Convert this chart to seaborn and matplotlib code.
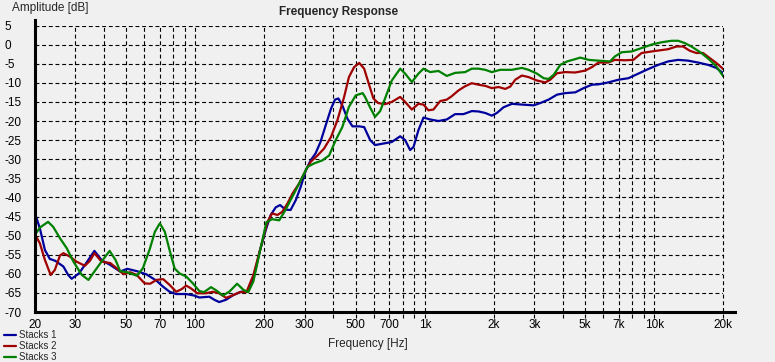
import numpy as np
import pandas as pd
import matplotlib
matplotlib.use("Agg")
import matplotlib.pyplot as plt
import seaborn as sns

# values
freq_1 = [20, 21.0, 22.1, 23.2, 24.5, 26.6, 27.9, 28.9, 31.1, 33.6, 36.3, 39.0, 42.6, 47.0, 50.5, 55.5, 61.0,
          63.3, 67.7, 72.4, 77.2, 82.5, 91.2, 99, 104, 115, 121, 127, 136, 146, 158, 170, 179,
          191, 203, 213, 224, 234, 247, 260, 274, 288, 303, 318, 334, 351, 370, 390, 406, 420, 437, 460, 484, 518, 544,
          578, 607, 660, 718, 781, 821, 863, 893, 938, 987, 1055, 1147, 1247, 1356, 1474, 1603,
          1714, 1834, 1960, 2061, 2205, 2398, 2649, 2981, 3187, 3464, 3769, 4096, 4526, 4921, 5349,
          5715, 6307, 6977, 7714, 8523, 9418, 10409, 11501, 12713, 14049, 15527, 17157, 18643, 20000]
amp_1 = [-44.2, -48.1, -53.8, -56.1, -56.6, -58.1, -60.3, -61.3, -59.9, -57.0, -54.0, -56.4, -57.7, -59.4, -58.7, -59.3, -60.1,
         -60.7, -61.8, -63.4, -64.7, -65.3, -65.3, -65.7, -66.2, -66.0, -66.8, -67.4, -66.8, -65.6, -64.7, -64.5, -61.2,
         -54.0, -48.4, -44.6, -42.6, -42.0, -43.2, -43.3, -40.7, -37.2, -32.9, -30.3, -28.5, -25.5, -21.1, -16.8, -14.4, -14.1, -15.9, -19.4, -21.4, -21.4, -21.6,
         -25.0, -26.3, -25.9, -25.5, -24.0, -25.0, -27.6, -26.8, -22.4, -19.1, -19.6, -20.0, -19.6, -18.2, -18.2, -17.4,
         -17.5, -17.9, -18.6, -17.9, -16.4, -15.5, -15.7, -15.9, -15.3, -14.4, -13.1, -12.7, -12.5, -11.4, -10.5,
         -10.4, -9.9, -9.2, -8.8, -7.6, -6.4, -5.3, -4.4, -4.0, -4.2, -4.7, -5.3, -6.1, -7.5]

freq_2 = [20, 21.0, 22.1, 23.4, 24.4, 25.7, 26.6, 28.4, 30.3, 33.0, 34.7, 36.3, 39.0, 42.6, 45.5, 48.6, 52.0, 55.5, 60.1,
          63.5, 67.7, 72.4, 77.2, 82.5, 87.2, 91.2, 95.6, 102, 111, 119, 127, 136, 146, 156, 167, 179,
          192, 206, 216, 228, 239, 252, 265, 283, 303, 318, 341, 364, 390, 416, 445, 467, 492, 518, 544,
          567, 597, 626, 671, 718, 781, 821, 878, 938, 987, 1037, 1091, 1166, 1247, 1311, 1402, 1499, 1603,
          1714, 1834, 1960, 2098, 2241, 2357, 2478, 2649, 2832, 3082, 3348, 3519, 3769, 4096, 4526, 5006, 5349,
          5715, 6307, 6739, 7456, 8106, 8809, 9737, 10583, 11501, 12498, 13360, 14277, 15262, 16313, 17436, 18643, 20000]
amp_2 = [-49.7, -52.0, -56.4, -60.3, -59.0, -55.2, -54.6, -55.5, -56.8, -57.9, -56.6, -54.6, -56.8, -57.2, -58.6, -60.1, -59.6, -60.3, -62.5,
         -62.6, -61.6, -61.4, -62.9, -64.7, -64.0, -63.1, -63.8, -65.1, -65.1, -64.7, -65.1, -66.3, -65.6, -64.8, -64.8, -60.3,
         -53.5, -46.4, -44.2, -44.6, -43.8, -41.6, -39.0, -36.4, -32.9, -30.7, -29.0, -27.2, -24.2, -19.8, -13.7, -8.5, -5.9, -4.8, -6.3,
         -9.8, -14.1, -15.3, -15.6, -15.0, -13.7, -15.0, -17.0, -15.5, -15.7, -17.2, -17.0, -14.8, -14.4, -13.5, -12.0, -10.9, -10.1,
         -10.5, -10.8, -11.4, -11.1, -11.6, -11.0, -9.2, -8.1, -8.5, -9.4, -9.9, -9.2, -7.5, -7.2, -7.3, -6.8, -5.9,
         -4.7, -4.7, -4.0, -4.1, -4.0, -2.2, -1.8, -1.5, -1.2, -0.5, -0.5, -1.6, -2.2, -2.2, -3.5, -4.8, -6.4]

freq_3 = [20, 21.0, 22.8, 24.0, 25.7, 27.5, 29.4, 32.0, 34.2, 36.3, 39.0, 42.3, 44.9, 47.0, 50.5, 55.5, 59.0,
          63.3, 66.6, 70, 73.6, 77.2, 81.2, 85.3, 91.2, 97.5, 104, 109, 117, 123, 132, 141, 152, 162, 170, 179, 191,
          204, 216, 232, 247, 260, 274, 293, 308, 329, 358, 383, 409, 437, 467, 500, 536,
          549, 578, 607, 639, 671, 718, 781, 821, 878, 938, 987, 1055, 1147, 1247, 1356, 1499, 1603,
          1714, 1834, 1960, 2131, 2398, 2649, 2832, 3082, 3296, 3464, 3646, 3896, 4174, 4526, 4758, 5181,
          5715, 6414, 6739, 7213, 7971, 8809, 9737, 10758, 11890, 12713, 13590, 14524, 16050, 17436, 18643, 20000]
amp_3 = [-49.8, -47.9, -46.4, -47.7, -50.7, -53.3, -56.8, -60.3, -61.6, -59.4, -56.8, -54.0, -56.4, -59.3, -59.6, -60.5, -58.6,
         -53.5, -49.0, -46.8, -49.0, -53.8, -58.6, -59.9, -60.7, -62.5, -64.5, -64.8, -63.5, -64.3, -65.7, -64.6, -62.6, -64.2, -64.8, -62.0, -54.2,
         -46.5, -45.7, -46.0, -43.3, -40.7, -38.1, -34.6, -32.0, -31.1, -30.3, -29.0, -25.0, -21.6, -16.3, -13.3, -12.7,
         -13.7, -16.5, -18.9, -17.4, -14.1, -9.4, -6.3, -7.6, -9.8, -7.6, -6.3, -7.2, -6.9, -8.2, -7.4, -7.2, -6.3,
         -6.3, -6.6, -7.2, -6.6, -6.6, -6.1, -6.6, -7.6, -8.8, -9.0, -7.9, -5.3, -4.4, -3.8, -3.4, -4.0,
         -4.2, -4.4, -3.1, -2.0, -1.8, -0.9, 0.0, 0.6, 1.0, 1.0, 0.4, -0.5, -2.2, -4.0, -5.7, -8.3]

series_names = ["Stacks 1", "Stacks 2", "Stacks 3"]
series_colors = ["#00009C", "#A00000", "#008000"]

x_major = [20, 30, 50, 70, 100, 200, 300, 500, 700, 1000, 2000, 3000, 5000, 7000, 10000, 20000]
x_major_labels = ["20", "30", "50", "70", "100", "200", "300", "500", "700", "1k", "2k", "3k", "5k", "7k", "10k", "20k"]
x_minor = [40, 60, 80, 90, 400, 600, 800, 900, 4000, 6000, 8000, 9000]
y_ticks = list(range(5, -75, -5))

df = pd.concat([
    pd.DataFrame({"Frequency": f, "Amplitude": a, "Series": n})
    for f, a, n in zip([freq_1, freq_2, freq_3], [amp_1, amp_2, amp_3], series_names)
])

sns.set_style("white")
plt.rcParams["font.family"] = ["Liberation Sans", "DejaVu Sans"]
bg = "#F0F0F0"

fig = plt.figure(figsize=(7.75, 3.62), dpi=100, facecolor=bg)
ax = fig.add_axes([35 / 775, 1 - 312 / 362, (723.3 - 35) / 775, (312 - 25.5) / 362])
ax.set_facecolor(bg)

sns.lineplot(data=df, x="Frequency", y="Amplitude", hue="Series", palette=series_colors,
             estimator=None, sort=False, linewidth=1.6, ax=ax, legend=True)

ax.set_xscale("log")
ax.set_xlim(20, 20000)
ax.set_ylim(-70, 5)
ax.set_xticks(x_major)
ax.set_xticklabels(x_major_labels)
ax.set_xticks(x_minor, minor=True)
ax.set_xticklabels([], minor=True)
ax.set_yticks(y_ticks)
ax.set_yticklabels([str(v) for v in y_ticks])

# dashed grid, vertical lines poke a little below the x axis
dash = (0, (3.5, 2.5))
ax.grid(False)
for v in y_ticks[:-1]:
    ax.axhline(v, color="black", lw=0.8, ls=dash, zorder=1)
ax.vlines(x_major[1:] + x_minor, -0.022, 1, transform=ax.get_xaxis_transform(),
          colors="black", lw=0.8, linestyles=dash, clip_on=False, zorder=1)

ax.tick_params(axis="both", which="both", length=0, labelsize=8.5, colors="black")
ax.tick_params(axis="x", pad=5)
ax.tick_params(axis="y", pad=22)
for t in ax.get_yticklabels():
    t.set_ha("left")

for s in ["top", "right"]:
    ax.spines[s].set_visible(False)
for s in ["left", "bottom"]:
    ax.spines[s].set_color("black")
    ax.spines[s].set_linewidth(2.2)
ax.spines["left"].set_bounds(-70, 6.4)
ax.spines["bottom"].set_bounds(20, 22400)

ax.set_xlabel("")
ax.set_ylabel("")
fig.text(368 / 775, 1 - 344 / 362, "Frequency [Hz]", ha="center", va="center", fontsize=8.5)
fig.text(12 / 775, 1 - 8 / 362, "Amplitude [dB]", ha="left", va="center", fontsize=8.5)
fig.text(339 / 775, 1 - 12 / 362, "Frequency Response", ha="center", va="center",
         fontsize=8.5, fontweight="bold")

handles, labels = ax.get_legend_handles_labels()
leg = ax.legend(handles, labels, loc="lower left", bbox_to_anchor=(4 / 775, 0.0),
                bbox_transform=fig.transFigure, frameon=False, fontsize=7,
                handlelength=1.25, handletextpad=0.3, labelspacing=0.1, borderpad=0.0,
                borderaxespad=0.0)

fig.savefig("out.png", dpi=100, facecolor=bg)
